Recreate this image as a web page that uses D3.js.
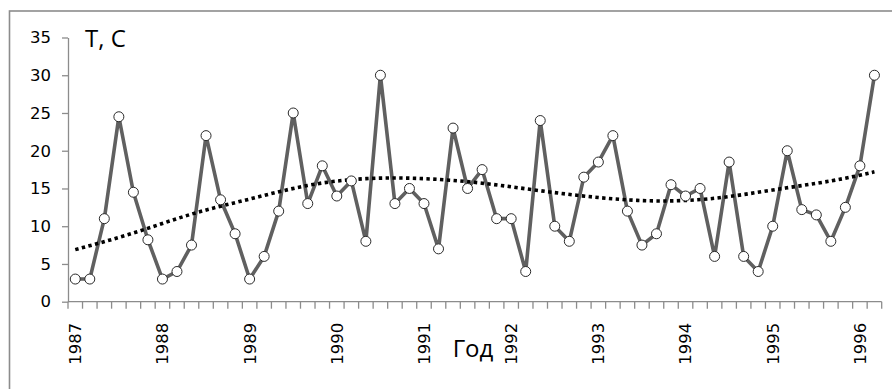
<!DOCTYPE html>
<html>
<head>
<meta charset="utf-8">
<script src="https://cdn.jsdelivr.net/npm/d3@7"></script>
<style>
  html, body { margin: 0; padding: 0; background: #fff; }
  svg { display: block; }
</style>
</head>
<body>
<svg id="chart" width="892" height="389"></svg>
<script>
// Bimonthly temperature values, 1987–1996 (6 per year, 56 points)
const temps = [3, 3, 11, 24.5, 14.5, 8.2,
               3, 4, 7.5, 22, 13.5, 9,
               3, 6, 12, 25, 13, 18,
               14, 16, 8, 30, 13, 15,
               13, 7, 23, 15, 17.5, 11,
               11, 4, 24, 10, 8, 16.5,
               18.5, 22, 12, 7.5, 9, 15.5,
               14, 15, 6, 18.5, 6, 4,
               10, 20, 12.2, 11.5, 8, 12.5,
               18, 30];
const years = ["1987", "1988", "1989", "1990", "1991", "1992", "1993", "1994", "1995", "1996"];
const perYear = 6;
// Polynomial trend line at category indices
const trendIdx = [0, 4, 8, 12, 16, 20, 24, 28, 32, 36, 40, 44, 48, 52, 55];
const trendVal = [6.9, 9.1, 11.6, 13.6, 15.4, 16.3, 16.3, 15.7, 14.7, 13.8, 13.35, 13.7, 14.8, 16.0, 17.2];
const yTicks = [0, 5, 10, 15, 20, 25, 30, 35];
const yLabel = "T, C";
const xLabel = "Год";

const svg = d3.select("#chart");
const mLeft = 68, mRight = 881.7, mTop = 37.5, mBottom = 301.7;

// outer chart border (right & bottom edges fall outside the image)
svg.append("rect").attr("x", 9.5).attr("y", 11).attr("width", 900).attr("height", 400)
  .attr("fill", "none").attr("stroke", "#8c8c8c").attr("stroke-width", 1.6);

const idx = d3.range(temps.length);
const x = d3.scaleBand().domain(idx).range([mLeft, mRight]).paddingInner(0).paddingOuter(0);
const y = d3.scaleLinear().domain([0, 35]).range([mBottom, mTop]);
const cx = i => x(i) + x.bandwidth() / 2;

// Y axis
const yAxis = svg.append("g").attr("transform", `translate(${mLeft},0)`)
  .call(d3.axisLeft(y).tickValues(yTicks).tickSize(6).tickPadding(11).tickSizeOuter(0));
yAxis.select(".domain").attr("stroke", "#8c8c8c").attr("stroke-width", 1.3);
yAxis.selectAll(".tick line").attr("stroke", "#8c8c8c").attr("stroke-width", 1.3);
yAxis.selectAll(".tick text").attr("font-family", "DejaVu Sans").attr("font-size", "16.5px").attr("fill", "#000");

// X axis line and tick marks between categories
const xAxis = svg.append("g");
xAxis.append("line").attr("x1", mLeft).attr("x2", mRight).attr("y1", mBottom).attr("y2", mBottom)
  .attr("stroke", "#8c8c8c").attr("stroke-width", 1.3);
const bounds = idx.map(i => x(i)).concat([mRight]);
xAxis.selectAll("line.tk").data(bounds).join("line").attr("class", "tk")
  .attr("x1", d => d).attr("x2", d => d).attr("y1", mBottom).attr("y2", mBottom + 7)
  .attr("stroke", "#8c8c8c").attr("stroke-width", 1.3);
xAxis.selectAll("text.yr").data(years).join("text").attr("class", "yr")
  .attr("transform", (d, i) => `translate(${cx(i * perYear)},${mBottom + 21}) rotate(-90)`)
  .attr("text-anchor", "end").attr("dy", "0.36em")
  .attr("font-family", "DejaVu Sans").attr("font-size", "16.5px").attr("fill", "#000")
  .text(d => d);

// Data line
const line = d3.line().x((d, i) => cx(i)).y(d => y(d));
svg.append("path").datum(temps).attr("d", line)
  .attr("fill", "none").attr("stroke", "#606060").attr("stroke-width", 3.6).attr("stroke-linejoin", "round");

// Trend line
const tline = d3.line().x(d => cx(d[0])).y(d => y(d[1])).curve(d3.curveNatural);
svg.append("path").datum(trendIdx.map((t, i) => [t, trendVal[i]])).attr("d", tline)
  .attr("fill", "none").attr("stroke", "#000").attr("stroke-width", 3.6).attr("stroke-dasharray", "3.4,3.4");

// Markers
svg.selectAll("circle.pt").data(temps).join("circle").attr("class", "pt")
  .attr("cx", (d, i) => cx(i)).attr("cy", d => y(d)).attr("r", 5)
  .attr("fill", "#fff").attr("stroke", "#2a2a2a").attr("stroke-width", 1);

// Axis titles
svg.append("text").attr("x", 85).attr("y", 47).attr("font-family", "Open Sans").attr("font-size", "24px")
  .attr("fill", "#000").text(yLabel);
svg.append("text").attr("x", 473).attr("y", 357).attr("text-anchor", "middle").attr("font-family", "Open Sans")
  .attr("font-size", "24px").attr("fill", "#000").text(xLabel);
</script>
</body>
</html>
